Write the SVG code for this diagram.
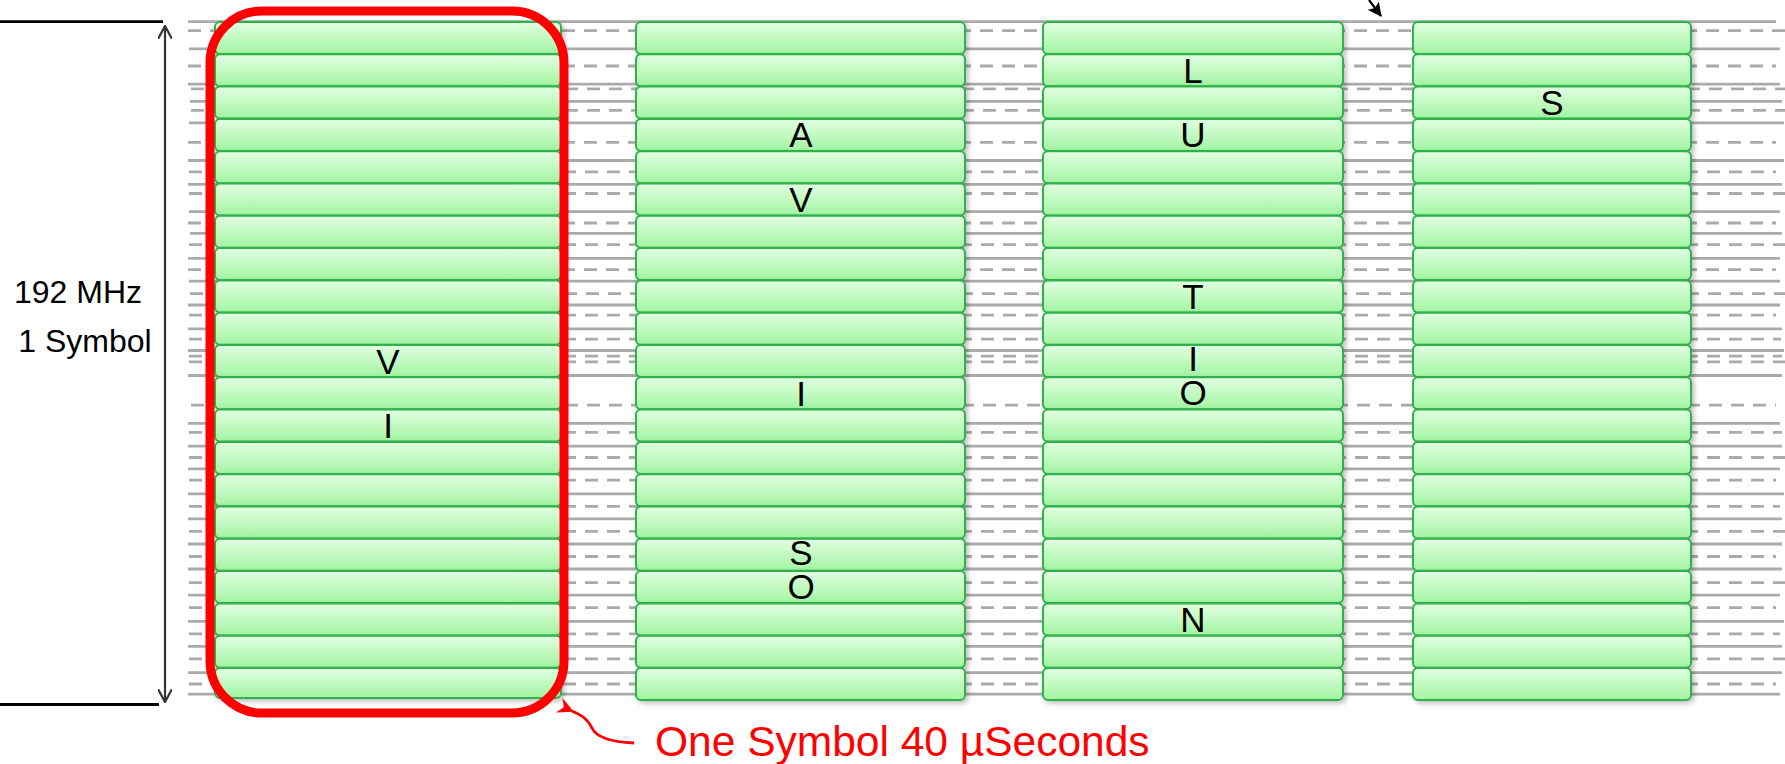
<svg xmlns="http://www.w3.org/2000/svg" width="1785" height="764" viewBox="0 0 1785 764">
<defs>
<linearGradient id="g" x1="0" y1="0" x2="0" y2="1">
<stop offset="0" stop-color="#e2ffe2"/>
<stop offset="1" stop-color="#a2f4a2"/>
</linearGradient>
<filter id="sh" x="-5%" y="-20%" width="110%" height="150%">
<feDropShadow dx="2.5" dy="2.5" stdDeviation="2.5" flood-color="#000" flood-opacity="0.25"/>
</filter>
<marker id="open" viewBox="0 0 14 14" refX="13" refY="7" markerWidth="14" markerHeight="14" markerUnits="userSpaceOnUse" orient="auto-start-reverse">
<path d="M0,0 L13,7 L0,14" fill="none" stroke="#333" stroke-width="2.2"/>
</marker>
<marker id="redhead" viewBox="0 0 16 16" refX="2" refY="8" markerWidth="16" markerHeight="16" markerUnits="userSpaceOnUse" orient="auto">
<path d="M16,0 L0,8 L16,16 L11,8 Z" fill="#ff0000"/>
</marker>
<marker id="blackhead" viewBox="0 0 14 14" refX="13" refY="7" markerWidth="14" markerHeight="14" markerUnits="userSpaceOnUse" orient="auto">
<path d="M0,0 L14,7 L0,14 L3,7 Z" fill="#000"/>
</marker>
<style>
.sl{stroke:#aaa;stroke-width:2.8;fill:none}
.dl{stroke:#aaa;stroke-width:2.8;fill:none;stroke-dasharray:13 9}
.box rect{fill:url(#g);stroke:#2db24a;stroke-width:2;filter:url(#sh)}
.ltr{font-family:"Liberation Sans",Arial,sans-serif;font-size:35px;fill:#000;text-anchor:middle}
.lbl{font-family:"Liberation Sans",Arial,sans-serif;font-size:32px;fill:#000;text-anchor:middle}
.red{font-family:"Liberation Sans",Arial,sans-serif;font-size:42.5px;fill:#ff0000}
</style>
</defs>
<rect width="1785" height="764" fill="#fff"/>
<g id="background-lines">
<line class="sl" x1="188" y1="21.6" x2="1776" y2="21.6"/>
<line class="dl" x1="188" y1="30.7" x2="1785" y2="30.7"/>
<line class="sl" x1="189" y1="48.9" x2="1780" y2="48.9"/>
<line class="dl" x1="188" y1="66" x2="1776" y2="66"/>
<line class="sl" x1="188" y1="84.2" x2="1780" y2="84.2"/>
<line class="dl" x1="191" y1="88.8" x2="1785" y2="88.8"/>
<line class="sl" x1="190" y1="101.3" x2="1782" y2="101.3"/>
<line class="dl" x1="191" y1="110.4" x2="1785" y2="110.4"/>
<line class="sl" x1="189" y1="122.9" x2="1784" y2="122.9"/>
<line class="dl" x1="188" y1="142.3" x2="1776" y2="142.3"/>
<line class="sl" x1="188" y1="160.5" x2="1784" y2="160.5"/>
<line class="dl" x1="189" y1="171.8" x2="1776" y2="171.8"/>
<line class="sl" x1="188" y1="184.4" x2="1782" y2="184.4"/>
<line class="dl" x1="189" y1="193.5" x2="1785" y2="193.5"/>
<line class="sl" x1="189" y1="211.7" x2="1780" y2="211.7"/>
<line class="dl" x1="188" y1="223" x2="1776" y2="223"/>
<line class="sl" x1="190" y1="233.3" x2="1782" y2="233.3"/>
<line class="dl" x1="189" y1="244.7" x2="1785" y2="244.7"/>
<line class="sl" x1="188" y1="258.3" x2="1780" y2="258.3"/>
<line class="dl" x1="188" y1="269.7" x2="1776" y2="269.7"/>
<line class="sl" x1="189" y1="281.1" x2="1780" y2="281.1"/>
<line class="dl" x1="190" y1="293.6" x2="1785" y2="293.6"/>
<line class="sl" x1="188" y1="305" x2="1780" y2="305"/>
<line class="dl" x1="189" y1="315.2" x2="1776" y2="315.2"/>
<line class="sl" x1="188" y1="328.9" x2="1782" y2="328.9"/>
<line class="dl" x1="189" y1="339.1" x2="1781" y2="339.1"/>
<line class="sl" x1="188" y1="350.5" x2="1784" y2="350.5"/>
<line class="dl" x1="189" y1="356.2" x2="1782" y2="356.2"/>
<line class="dl" x1="189" y1="361.9" x2="1785" y2="361.9"/>
<line class="sl" x1="188" y1="375.5" x2="1782" y2="375.5"/>
<line class="dl" x1="191" y1="405.1" x2="1776" y2="405.1"/>
<line class="sl" x1="188" y1="423.3" x2="1780" y2="423.3"/>
<line class="dl" x1="189" y1="432.4" x2="1782" y2="432.4"/>
<line class="sl" x1="188" y1="446.1" x2="1782" y2="446.1"/>
<line class="dl" x1="189" y1="457.5" x2="1785" y2="457.5"/>
<line class="sl" x1="188" y1="468.9" x2="1780" y2="468.9"/>
<line class="dl" x1="189" y1="480.2" x2="1776" y2="480.2"/>
<line class="sl" x1="188" y1="493.9" x2="1784" y2="493.9"/>
<line class="dl" x1="189" y1="506.4" x2="1780" y2="506.4"/>
<line class="sl" x1="188" y1="518.9" x2="1782" y2="518.9"/>
<line class="dl" x1="189" y1="531.4" x2="1785" y2="531.4"/>
<line class="sl" x1="188" y1="544" x2="1782" y2="544"/>
<line class="dl" x1="189" y1="556.5" x2="1776" y2="556.5"/>
<line class="sl" x1="188" y1="569" x2="1782" y2="569"/>
<line class="dl" x1="189" y1="582.7" x2="1785" y2="582.7"/>
<line class="sl" x1="188" y1="595.2" x2="1780" y2="595.2"/>
<line class="dl" x1="189" y1="607.7" x2="1776" y2="607.7"/>
<line class="sl" x1="188" y1="621.3" x2="1784" y2="621.3"/>
<line class="dl" x1="189" y1="633.9" x2="1780" y2="633.9"/>
<line class="sl" x1="188" y1="646.4" x2="1782" y2="646.4"/>
<line class="dl" x1="189" y1="658.9" x2="1785" y2="658.9"/>
<line class="sl" x1="188" y1="672.6" x2="1782" y2="672.6"/>
<line class="dl" x1="189" y1="684" x2="1776" y2="684"/>
<line class="sl" x1="188" y1="694.2" x2="1780" y2="694.2"/>
</g>
<g id="col1" class="box">
<rect x="215" y="22" width="346" height="32" rx="5"/>
<rect x="215" y="54.3" width="346" height="32" rx="5"/>
<rect x="215" y="86.6" width="346" height="32" rx="5"/>
<rect x="215" y="118.9" width="346" height="32" rx="5"/>
<rect x="215" y="151.2" width="346" height="32" rx="5"/>
<rect x="215" y="183.5" width="346" height="32" rx="5"/>
<rect x="215" y="215.8" width="346" height="32" rx="5"/>
<rect x="215" y="248.1" width="346" height="32" rx="5"/>
<rect x="215" y="280.4" width="346" height="32" rx="5"/>
<rect x="215" y="312.7" width="346" height="32" rx="5"/>
<rect x="215" y="345" width="346" height="32" rx="5"/>
<rect x="215" y="377.3" width="346" height="32" rx="5"/>
<rect x="215" y="409.6" width="346" height="32" rx="5"/>
<rect x="215" y="441.9" width="346" height="32" rx="5"/>
<rect x="215" y="474.2" width="346" height="32" rx="5"/>
<rect x="215" y="506.5" width="346" height="32" rx="5"/>
<rect x="215" y="538.8" width="346" height="32" rx="5"/>
<rect x="215" y="571.1" width="346" height="32" rx="5"/>
<rect x="215" y="603.4" width="346" height="32" rx="5"/>
<rect x="215" y="635.7" width="346" height="32" rx="5"/>
<rect x="215" y="668" width="346" height="30" rx="5"/>
<text class="ltr" x="388" y="373.5">V</text>
<text class="ltr" x="388" y="438">I</text>
</g>
<g id="col2" class="box">
<rect x="636" y="22" width="329" height="32" rx="5"/>
<rect x="636" y="54.3" width="329" height="32" rx="5"/>
<rect x="636" y="86.6" width="329" height="32" rx="5"/>
<rect x="636" y="118.9" width="329" height="32" rx="5"/>
<rect x="636" y="151.2" width="329" height="32" rx="5"/>
<rect x="636" y="183.5" width="329" height="32" rx="5"/>
<rect x="636" y="215.8" width="329" height="32" rx="5"/>
<rect x="636" y="248.1" width="329" height="32" rx="5"/>
<rect x="636" y="280.4" width="329" height="32" rx="5"/>
<rect x="636" y="312.7" width="329" height="32" rx="5"/>
<rect x="636" y="345" width="329" height="32" rx="5"/>
<rect x="636" y="377.3" width="329" height="32" rx="5"/>
<rect x="636" y="409.6" width="329" height="32" rx="5"/>
<rect x="636" y="441.9" width="329" height="32" rx="5"/>
<rect x="636" y="474.2" width="329" height="32" rx="5"/>
<rect x="636" y="506.5" width="329" height="32" rx="5"/>
<rect x="636" y="538.8" width="329" height="32" rx="5"/>
<rect x="636" y="571.1" width="329" height="32" rx="5"/>
<rect x="636" y="603.4" width="329" height="32" rx="5"/>
<rect x="636" y="635.7" width="329" height="32" rx="5"/>
<rect x="636" y="668" width="329" height="32" rx="5"/>
<text class="ltr" x="801" y="147.4">A</text>
<text class="ltr" x="801" y="212">V</text>
<text class="ltr" x="801" y="405.8">I</text>
<text class="ltr" x="801" y="565">S</text>
<text class="ltr" x="801" y="599">O</text>
</g>
<g id="col3" class="box">
<rect x="1043" y="22" width="300" height="32" rx="5"/>
<rect x="1043" y="54.3" width="300" height="32" rx="5"/>
<rect x="1043" y="86.6" width="300" height="32" rx="5"/>
<rect x="1043" y="118.9" width="300" height="32" rx="5"/>
<rect x="1043" y="151.2" width="300" height="32" rx="5"/>
<rect x="1043" y="183.5" width="300" height="32" rx="5"/>
<rect x="1043" y="215.8" width="300" height="32" rx="5"/>
<rect x="1043" y="248.1" width="300" height="32" rx="5"/>
<rect x="1043" y="280.4" width="300" height="32" rx="5"/>
<rect x="1043" y="312.7" width="300" height="32" rx="5"/>
<rect x="1043" y="345" width="300" height="32" rx="5"/>
<rect x="1043" y="377.3" width="300" height="32" rx="5"/>
<rect x="1043" y="409.6" width="300" height="32" rx="5"/>
<rect x="1043" y="441.9" width="300" height="32" rx="5"/>
<rect x="1043" y="474.2" width="300" height="32" rx="5"/>
<rect x="1043" y="506.5" width="300" height="32" rx="5"/>
<rect x="1043" y="538.8" width="300" height="32" rx="5"/>
<rect x="1043" y="571.1" width="300" height="32" rx="5"/>
<rect x="1043" y="603.4" width="300" height="32" rx="5"/>
<rect x="1043" y="635.7" width="300" height="32" rx="5"/>
<rect x="1043" y="668" width="300" height="32" rx="5"/>
<text class="ltr" x="1193" y="82.8">L</text>
<text class="ltr" x="1193" y="147.4">U</text>
<text class="ltr" x="1193" y="308.9">T</text>
<text class="ltr" x="1193" y="371">I</text>
<text class="ltr" x="1193" y="405">O</text>
<text class="ltr" x="1193" y="631.9">N</text>
</g>
<g id="col4" class="box">
<rect x="1413" y="22" width="278" height="32" rx="5"/>
<rect x="1413" y="54.3" width="278" height="32" rx="5"/>
<rect x="1413" y="86.6" width="278" height="32" rx="5"/>
<rect x="1413" y="118.9" width="278" height="32" rx="5"/>
<rect x="1413" y="151.2" width="278" height="32" rx="5"/>
<rect x="1413" y="183.5" width="278" height="32" rx="5"/>
<rect x="1413" y="215.8" width="278" height="32" rx="5"/>
<rect x="1413" y="248.1" width="278" height="32" rx="5"/>
<rect x="1413" y="280.4" width="278" height="32" rx="5"/>
<rect x="1413" y="312.7" width="278" height="32" rx="5"/>
<rect x="1413" y="345" width="278" height="32" rx="5"/>
<rect x="1413" y="377.3" width="278" height="32" rx="5"/>
<rect x="1413" y="409.6" width="278" height="32" rx="5"/>
<rect x="1413" y="441.9" width="278" height="32" rx="5"/>
<rect x="1413" y="474.2" width="278" height="32" rx="5"/>
<rect x="1413" y="506.5" width="278" height="32" rx="5"/>
<rect x="1413" y="538.8" width="278" height="32" rx="5"/>
<rect x="1413" y="571.1" width="278" height="32" rx="5"/>
<rect x="1413" y="603.4" width="278" height="32" rx="5"/>
<rect x="1413" y="635.7" width="278" height="32" rx="5"/>
<rect x="1413" y="668" width="278" height="32" rx="5"/>
<text class="ltr" x="1552" y="115.1">S</text>
</g>
<g id="symbol-frame">
<rect x="210" y="11" width="354" height="702" rx="52" fill="none" stroke="#ff0000" stroke-width="9"/>
</g>
<g id="bandwidth-label">
<line x1="0" y1="21.6" x2="163" y2="21.6" stroke="#000" stroke-width="2.8"/>
<line x1="0" y1="704.5" x2="159" y2="704.5" stroke="#000" stroke-width="2.8"/>
<text class="lbl" x="78" y="303">192 MHz</text>
<text class="lbl" x="85" y="352">1 Symbol</text>
</g>
<g id="callout-label">
<text class="red" x="655" y="756">One Symbol 40 µSeconds</text>
</g>
<g id="connectors">
<line x1="165" y1="26" x2="165" y2="702" stroke="#333" stroke-width="2.2" marker-start="url(#open)" marker-end="url(#open)"/>
<path d="M634,743 C612,742 596,737 592,728 C587,718 581,715 572,711" fill="none" stroke="#ff0000" stroke-width="2.8" marker-end="url(#redhead)"/>
<line x1="1369" y1="0" x2="1381" y2="16" stroke="#000" stroke-width="2.2" marker-end="url(#blackhead)"/>
</g>
</svg>
